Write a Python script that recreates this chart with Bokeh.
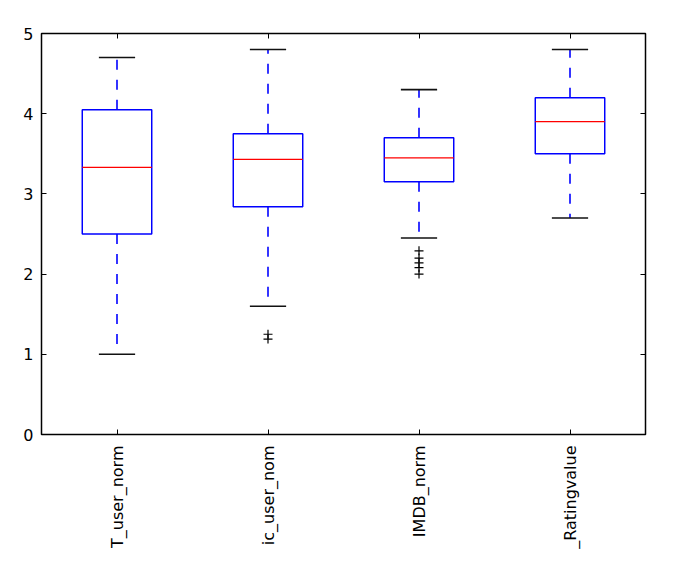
from bokeh.plotting import figure
from bokeh.models import Range1d, FixedTicker, LinearAxis, CustomLabelingPolicy
from bokeh.embed import file_html
from bokeh.resources import INLINE

# Data
labels = ["T_user_norm", "ic_user_nom", "IMDB_norm", "_Ratingvalue"]
positions = [1, 2, 3, 4]
whisker_low = [1.0, 1.6, 2.45, 2.7]
q1 = [2.5, 2.84, 3.15, 3.5]
median = [3.33, 3.43, 3.45, 3.9]
q3 = [4.05, 3.75, 3.7, 4.2]
whisker_high = [4.7, 4.8, 4.3, 4.8]
outlier_x = [2, 2, 3, 3, 3, 3, 3]
outlier_y = [1.25, 1.19, 2.29, 2.2, 2.14, 2.08, 2.0]
y_ticks = [0, 1, 2, 3, 4, 5]

BOX_W = 0.46
CAP_W = 0.24
FONT = "DejaVu Sans"

p = figure(width=680, height=554, output_backend="svg", toolbar_location=None,
           x_range=Range1d(0.5, 4.5), y_range=Range1d(0, 5),
           min_border_left=41, min_border_top=33, min_border_right=35,
           min_border_bottom=120, background_fill_color="white",
           border_fill_color="white", outline_line_color="black",
           outline_line_width=1.5)
p.grid.visible = False

# whiskers (dashed blue)
p.segment(x0=positions, y0=q3, x1=positions, y1=whisker_high,
          line_color="blue", line_dash="10 10", line_width=1.6)
p.segment(x0=positions, y0=q1, x1=positions, y1=whisker_low,
          line_color="blue", line_dash="10 10", line_width=1.6)
# caps
p.segment(x0=[x - CAP_W / 2 for x in positions], y0=whisker_high,
          x1=[x + CAP_W / 2 for x in positions], y1=whisker_high,
          line_color="#111111", line_width=1.6)
p.segment(x0=[x - CAP_W / 2 for x in positions], y0=whisker_low,
          x1=[x + CAP_W / 2 for x in positions], y1=whisker_low,
          line_color="#111111", line_width=1.6)
# boxes
p.vbar(x=positions, width=BOX_W, top=q3, bottom=q1, fill_color=None,
       line_color="blue", line_width=1.5)
# medians
p.segment(x0=[x - BOX_W / 2 for x in positions], y0=median,
          x1=[x + BOX_W / 2 for x in positions], y1=median,
          line_color="red", line_width=1.3)
# outliers
p.scatter(x=outlier_x, y=outlier_y, marker="cross", size=9,
          line_color="black", line_width=1.2)

# axes
xa = p.xaxis[0]
xa.ticker = FixedTicker(ticks=positions)
xa.major_label_overrides = {pos: lab for pos, lab in zip(positions, labels)}
xa.major_label_orientation = 1.5708

ya = p.yaxis[0]
ya.ticker = FixedTicker(ticks=y_ticks)

for ax in (xa, ya):
    ax.axis_line_color = None
    ax.major_tick_in = 5
    ax.major_tick_out = 0
    ax.minor_tick_line_color = None
    ax.major_tick_line_color = "black"
    ax.major_label_text_font = FONT
    ax.major_label_text_font_size = "16px"
    ax.major_label_text_color = "black"
    ax.major_label_standoff = 8
xa.major_label_standoff = 11

hide_all = CustomLabelingPolicy(
    code="const a = Array.from(indices); for (const i of a) { indices.unset(i) } return indices")
top = LinearAxis(ticker=FixedTicker(ticks=positions))
right = LinearAxis(ticker=FixedTicker(ticks=y_ticks))
for ax in (top, right):
    ax.axis_line_color = None
    ax.major_tick_in = 5
    ax.major_tick_out = 0
    ax.minor_tick_line_color = None
    ax.major_label_policy = hide_all
    ax.major_label_standoff = 0
p.add_layout(top, "above")
p.add_layout(right, "right")

open("out.html", "w").write(file_html(p, INLINE))
